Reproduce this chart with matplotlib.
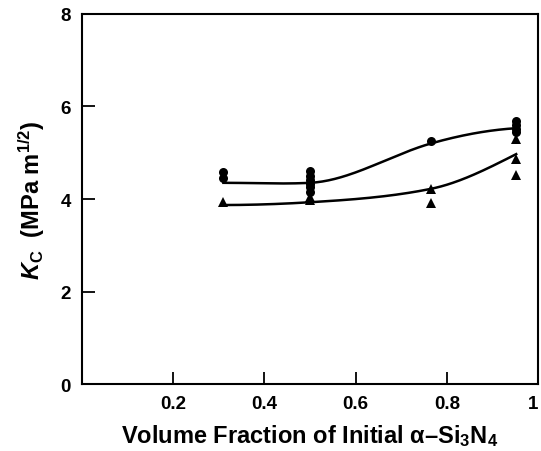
import matplotlib
matplotlib.use("Agg")
import matplotlib.pyplot as plt
import numpy as np

plt.rcParams["font.family"] = ["Liberation Sans", "DejaVu Sans"]
plt.rcParams["font.weight"] = "bold"
plt.rcParams["mathtext.fontset"] = "custom"
plt.rcParams["mathtext.rm"] = "Liberation Sans:bold"
plt.rcParams["mathtext.it"] = "Liberation Sans:bold:italic"
plt.rcParams["mathtext.bf"] = "Liberation Sans:bold"

# measured points (volume fraction, Kc)
circle_x = [0.31, 0.31, 0.50, 0.50, 0.50, 0.50, 0.50, 0.50, 0.765, 0.952, 0.952, 0.952, 0.952]
circle_y = [4.58, 4.45, 4.60, 4.50, 4.42, 4.33, 4.25, 4.15, 5.25, 5.68, 5.60, 5.52, 5.45]
tri_x = [0.31, 0.50, 0.50, 0.765, 0.765, 0.952, 0.952, 0.952]
tri_y = [3.93, 4.05, 3.97, 4.22, 3.91, 5.30, 4.86, 4.52]

# hand-drawn trend curves (anchor values)
curve_x = [0.31, 0.50, 0.765, 0.952]
upper_curve = [4.35, 4.35, 5.20, 5.53]
lower_curve = [3.87, 3.93, 4.22, 4.97]
upper_slopes = [0.0, 0.5, 2.8, 0.6]
lower_slopes = [0.0, 0.6, 2.0, 5.0]


def hermite(xs, ys, ms, n=60):
    px, py = [], []
    for i in range(len(xs) - 1):
        h = xs[i + 1] - xs[i]
        t = np.linspace(0, 1, n)
        h00 = 2 * t**3 - 3 * t**2 + 1
        h10 = t**3 - 2 * t**2 + t
        h01 = -2 * t**3 + 3 * t**2
        h11 = t**3 - t**2
        px.append(xs[i] + t * h)
        py.append(h00 * ys[i] + h10 * h * ms[i] + h01 * ys[i + 1] + h11 * h * ms[i + 1])
    return np.concatenate(px), np.concatenate(py)


fig = plt.figure(figsize=(5.41, 4.52), dpi=100)
ax = fig.add_axes([0.1516, 0.148, 0.843, 0.819])

ux, uy = hermite(curve_x, upper_curve, upper_slopes)
lx, ly = hermite(curve_x, lower_curve, lower_slopes)
ax.plot(ux, uy, color="black", lw=1.8, zorder=2)
ax.plot(lx, ly, color="black", lw=1.8, zorder=2)

ax.plot(circle_x, circle_y, "o", color="black", ms=6.5, mec="black", mew=0, zorder=3)
ax.plot(tri_x, tri_y, "^", color="black", ms=6.5, mec="black", mew=0, zorder=3)

ax.set_xlim(0, 1)
ax.set_ylim(0, 8)
ax.set_xticks([0.2, 0.4, 0.6, 0.8, 1.0])
ax.set_xticklabels(["0.2", "0.4", "0.6", "0.8", "1"])
ax.set_yticks([0, 2, 4, 6, 8])
ax.tick_params(direction="in", length=9, width=1.3, labelsize=13.5, pad=8)
ax.tick_params(axis="y", pad=8)
ax.get_xticklabels()[-1].set_horizontalalignment("right")
for s in ax.spines.values():
    s.set_linewidth(1.5)

ax.set_xlabel("Volume Fraction of Initial α\u2013Si$_3$N$_4$", fontsize=17, fontweight="bold", labelpad=7)
ax.set_ylabel(r"$K_{\rm C}$  (MPa m$^{1/2}$)", fontsize=17, fontweight="bold", labelpad=10)

fig.savefig("out.png", dpi=100)
